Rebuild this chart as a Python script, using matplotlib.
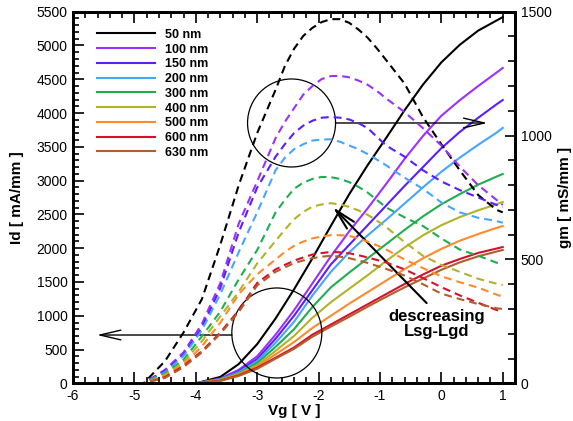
import numpy as np
import matplotlib
matplotlib.use('Agg')
import matplotlib.pyplot as plt
from matplotlib.patches import Ellipse

plt.rcParams['font.family'] = ['Liberation Sans', 'DejaVu Sans']
plt.rcParams['axes.unicode_minus'] = False

labels = ['50 nm', '100 nm', '150 nm', '200 nm', '300 nm',
          '400 nm', '500 nm', '600 nm', '630 nm']
colors = ['#000000', '#9b30ff', '#5a1eff', '#45a5ff', '#1fae4f',
          '#b2b22a', '#ff8a2a', '#d8102e', '#b0602a']

# drain current Id [mA/mm] vs Vg
vg_id = [-6, -4.0, -3.6, -3.3, -3.0, -2.7, -2.4, -2.1, -1.8, -1.5, -1.2,
         -0.9, -0.6, -0.3, 0, 0.3, 0.6, 0.9, 1.0]
id_50 = [0, 0, 95, 285, 580, 960, 1390, 1850, 2330, 2800, 3230,
         3630, 4040, 4420, 4750, 5010, 5220, 5370, 5420]
id_100 = [0, 0, 70, 200, 400, 720, 1080, 1480, 1880, 2250, 2590,
          2950, 3320, 3660, 3960, 4190, 4400, 4600, 4667]
id_150 = [0, 0, 65, 180, 360, 660, 1000, 1380, 1760, 2050, 2340,
          2630, 2920, 3200, 3480, 3720, 3930, 4130, 4193]
id_200 = [0, 0, 60, 165, 330, 600, 910, 1300, 1650, 1940, 2190,
          2420, 2660, 2900, 3130, 3340, 3530, 3710, 3780]
id_300 = [0, 0, 55, 150, 300, 540, 800, 1130, 1420, 1640, 1850,
          2060, 2270, 2470, 2650, 2800, 2940, 3060, 3098]
id_400 = [0, 0, 50, 140, 270, 480, 700, 970, 1200, 1400, 1600,
          1810, 2010, 2190, 2340, 2460, 2560, 2650, 2684]
id_500 = [0, 0, 45, 130, 250, 430, 610, 820, 1000, 1180, 1350,
          1520, 1690, 1850, 1990, 2110, 2210, 2300, 2328]
id_600 = [0, 0, 40, 120, 230, 380, 530, 720, 870, 1020, 1170,
          1320, 1470, 1610, 1740, 1840, 1930, 1995, 2017]
id_630 = [0, 0, 35, 110, 215, 365, 510, 690, 840, 985, 1135,
          1280, 1420, 1550, 1680, 1790, 1880, 1950, 1973]

# transconductance gm [mS/mm] vs Vg
vg_gm = [-6, -4.85, -4.5, -4.2, -3.9, -3.6, -3.3, -3.0, -2.7, -2.55, -2.4,
         -2.25, -2.1, -1.95, -1.8, -1.65, -1.5, -1.35, -1.2, -1.05, -0.9,
         -0.6, -0.3, 0, 0.3, 0.6, 0.9, 1.0]
gm_50 = [0, 0, 90, 205, 340, 560, 800, 1010, 1185, 1280, 1350,
         1402, 1435, 1458, 1470, 1470, 1455, 1428, 1395, 1352, 1305,
         1210, 1075, 965, 860, 760, 700, 690]
gm_100 = [0, 0, 55, 125, 240, 405, 645, 815, 990, 1055, 1110,
          1165, 1200, 1228, 1240, 1241, 1235, 1222, 1205, 1180, 1150,
          1095, 1030, 960, 875, 800, 740, 720]
gm_150 = [0, 0, 50, 115, 225, 385, 610, 790, 915, 965, 1010,
          1040, 1060, 1072, 1075, 1072, 1065, 1050, 1030, 995, 960,
          915, 860, 815, 780, 750, 720, 712]
gm_200 = [0, 0, 45, 110, 215, 360, 530, 690, 860, 910, 945,
          965, 980, 984, 985, 975, 960, 945, 925, 903, 880,
          830, 785, 730, 690, 668, 655, 648]
gm_300 = [0, 0, 40, 95, 190, 290, 420, 538, 690, 740, 785,
          810, 825, 833, 832, 825, 812, 793, 770, 740, 710,
          670, 635, 585, 540, 515, 487, 480]
gm_400 = [0, 0, 35, 85, 170, 270, 370, 484, 575, 620, 662,
          692, 713, 722, 727, 722, 712, 698, 680, 657, 631,
          570, 515, 478, 450, 422, 402, 397]
gm_500 = [0, 0, 30, 75, 150, 245, 360, 440, 500, 530, 555,
          572, 585, 593, 598, 598, 595, 585, 572, 557, 540,
          500, 465, 432, 408, 386, 358, 349]
gm_600 = [0, 0, 25, 70, 130, 205, 295, 405, 460, 478, 495,
          508, 520, 526, 530, 529, 525, 517, 508, 498, 488,
          460, 425, 388, 355, 325, 296, 288]
gm_630 = [0, 0, 22, 65, 125, 200, 288, 395, 450, 468, 485,
          496, 505, 511, 515, 511, 505, 496, 486, 474, 462,
          435, 400, 362, 340, 320, 303, 300]

id_curves = [id_50, id_100, id_150, id_200, id_300, id_400, id_500, id_600, id_630]
gm_curves = [gm_50, gm_100, gm_150, gm_200, gm_300, gm_400, gm_500, gm_600, gm_630]

fig = plt.figure(figsize=(5.73, 4.21), dpi=100)
ax = fig.add_axes([0.1274, 0.0895, 0.7714, 0.8827])
ax2 = ax.twinx()

for c, lab, y in zip(colors, labels, id_curves):
    ax.plot(vg_id, y, color=c, lw=1.5, label=lab)
for c, y in zip(colors, gm_curves):
    ax2.plot(vg_gm, y, color=c, lw=1.5, dashes=(3.8, 2.4))

ax.set_xlim(-6, 1.2)
ax.set_ylim(0, 5500)
ax2.set_ylim(0, 1500)
ax.set_xticks(np.arange(-6, 2, 1))
ax.set_xticks(np.arange(-6, 1.21, 0.2), minor=True)
ax.set_yticks(np.arange(0, 5501, 500))
ax.set_yticks(np.arange(0, 5501, 100), minor=True)
ax2.set_yticks([0, 500, 1000, 1500])
ax2.set_yticks(np.arange(0, 1501, 100), minor=True)

ax.tick_params(which='both', direction='in', top=True, right=False,
               labelsize=10, width=1.2, pad=4)
ax.tick_params(which='major', length=8)
ax.tick_params(which='minor', length=4)
ax2.tick_params(which='both', direction='in', labelsize=10, width=1.2, pad=4)
ax2.tick_params(which='major', length=7)
ax2.tick_params(which='minor', length=5)
for a in (ax, ax2):
    for s in a.spines.values():
        s.set_linewidth(2)

ax.set_xlabel('Vg [ V ]', fontsize=11, fontweight='bold', labelpad=1)
ax.set_ylabel('Id [ mA/mm ]', fontsize=11, fontweight='bold', labelpad=9)
ax2.set_ylabel('gm [ mS/mm ]', fontsize=11, fontweight='bold', labelpad=5)

ax.legend(loc='upper left', bbox_to_anchor=(0.055, 0.954), frameon=False,
          borderpad=0, borderaxespad=0, handlelength=4.6, handletextpad=0.8,
          labelspacing=0.22, prop={'weight': 'bold', 'size': 9})

# circles (round in pixels)
px_x = 442 / 7.2
px_y = 371.6 / 5500
ax.add_patch(Ellipse((-2.44, 3853), 2 * 44 / px_x, 2 * 44 / px_y,
                     fill=False, lw=0.9, color='black', zorder=5))
ax.add_patch(Ellipse((-2.68, 745), 2 * 45 / px_x, 2 * 45 / px_y,
                     fill=False, lw=0.9, color='black', zorder=5))

arrow = dict(arrowstyle='->,head_length=1.5,head_width=0.35',
             color='black', lw=1.0, mutation_scale=10, shrinkA=0, shrinkB=0)
ax.annotate('', xy=(0.75, 3853), xytext=(-1.725, 3853), arrowprops=arrow,
            zorder=6)
ax.annotate('', xy=(-5.61, 715), xytext=(-3.41, 715), arrowprops=arrow,
            zorder=6)
arrow2 = dict(arrow, lw=1.5)
ax.annotate('', xy=(-1.77, 2610), xytext=(-0.24, 1188), arrowprops=arrow2,
            zorder=6)
ax.text(-0.08, 878, 'descreasing\nLsg-Lgd', ha='center', va='center',
        fontsize=12, fontweight='bold', linespacing=1.0, zorder=6)

fig.savefig('out.png', dpi=100)
